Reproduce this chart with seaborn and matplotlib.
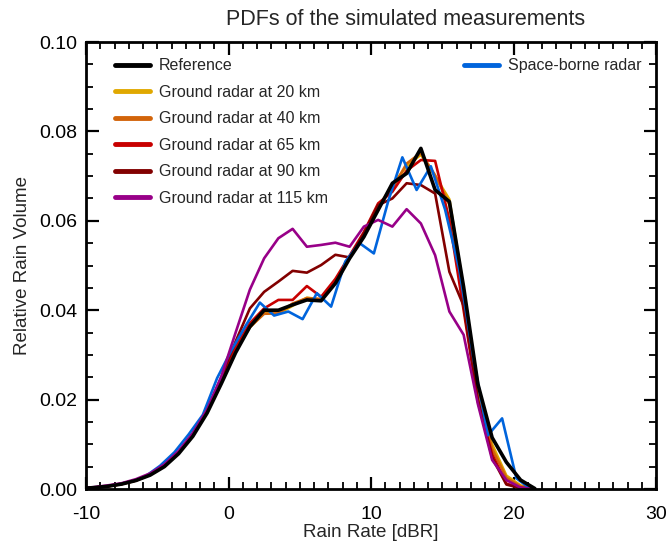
import numpy as np
import pandas as pd
import matplotlib
matplotlib.use("Agg")
import matplotlib.pyplot as plt
from matplotlib.lines import Line2D
from matplotlib.ticker import MultipleLocator, FormatStrFormatter
import seaborn as sns

# Bin centres of the rain-rate histograms [dBR]
rain_rate = [-10.5, -9.5, -8.5, -7.5, -6.5, -5.5, -4.5, -3.5, -2.5, -1.5, -0.5,
             0.5, 1.5, 2.5, 3.5, 4.5, 5.5, 6.5, 7.5, 8.5, 9.5, 10.5,
             11.5, 12.5, 13.5, 14.5, 15.5, 16.5, 17.5, 18.5, 19.5, 20.5, 21.5]
rain_rate_sb = [-10.8, -9.8, -8.8, -7.8, -6.8, -5.8, -4.8, -3.8, -2.8, -1.8, -0.8,
                0.2, 1.2, 2.2, 3.2, 4.2, 5.2, 6.2, 7.2, 8.2, 9.2, 10.2,
                11.2, 12.2, 13.2, 14.2, 15.2, 16.2, 17.2, 18.2, 19.2, 20.2, 21.2]

reference = [0.0001, 0.0003, 0.0006, 0.0011, 0.0019, 0.0031, 0.0050, 0.0079, 0.0118, 0.0170, 0.0236,
             0.0305, 0.0363, 0.0400, 0.0400, 0.0412, 0.0423, 0.0421, 0.0460, 0.0516, 0.0564, 0.0624,
             0.0684, 0.0706, 0.0762, 0.0669, 0.0643, 0.0452, 0.0235, 0.0115, 0.0060, 0.0020, 0.0001]
gr_20km = [0.0001, 0.0003, 0.0006, 0.0011, 0.0019, 0.0032, 0.0051, 0.0081, 0.0122, 0.0174, 0.0242,
           0.0310, 0.0362, 0.0394, 0.0392, 0.0410, 0.0428, 0.0424, 0.0462, 0.0518, 0.0568, 0.0630,
           0.0680, 0.0722, 0.0748, 0.0700, 0.0648, 0.0448, 0.0228, 0.0100, 0.0030, 0.0008, 0.0000]
gr_40km = [0.0001, 0.0003, 0.0006, 0.0011, 0.0019, 0.0032, 0.0051, 0.0081, 0.0122, 0.0174, 0.0243,
           0.0312, 0.0362, 0.0392, 0.0393, 0.0415, 0.0427, 0.0425, 0.0465, 0.0520, 0.0570, 0.0632,
           0.0672, 0.0728, 0.0752, 0.0702, 0.0636, 0.0430, 0.0215, 0.0090, 0.0025, 0.0006, 0.0000]
gr_65km = [0.0001, 0.0003, 0.0006, 0.0011, 0.0019, 0.0032, 0.0052, 0.0082, 0.0123, 0.0175, 0.0245,
           0.0318, 0.0371, 0.0404, 0.0423, 0.0423, 0.0454, 0.0430, 0.0470, 0.0522, 0.0575, 0.0639,
           0.0665, 0.0712, 0.0736, 0.0734, 0.0602, 0.0400, 0.0195, 0.0078, 0.0012, 0.0003, 0.0000]
gr_90km = [0.0001, 0.0003, 0.0006, 0.0012, 0.0020, 0.0033, 0.0053, 0.0083, 0.0125, 0.0178, 0.0250,
           0.0330, 0.0404, 0.0441, 0.0464, 0.0488, 0.0484, 0.0501, 0.0524, 0.0518, 0.0572, 0.0635,
           0.0650, 0.0684, 0.0680, 0.0661, 0.0486, 0.0410, 0.0200, 0.0070, 0.0010, 0.0002, 0.0000]
gr_115km = [0.0002, 0.0004, 0.0008, 0.0013, 0.0022, 0.0035, 0.0055, 0.0085, 0.0125, 0.0178, 0.0252,
            0.0350, 0.0446, 0.0516, 0.0561, 0.0582, 0.0542, 0.0546, 0.0551, 0.0542, 0.0587, 0.0602,
            0.0587, 0.0626, 0.0594, 0.0523, 0.0397, 0.0345, 0.0190, 0.0065, 0.0020, 0.0003, 0.0000]
spaceborne = [0.0001, 0.0002, 0.0005, 0.0010, 0.0017, 0.0029, 0.0052, 0.0082, 0.0122, 0.0166, 0.0248,
              0.0310, 0.0365, 0.0417, 0.0388, 0.0397, 0.0380, 0.0438, 0.0408, 0.0509, 0.0550, 0.0527,
              0.0643, 0.0742, 0.0669, 0.0722, 0.0625, 0.0490, 0.0290, 0.0120, 0.0158, 0.0024, 0.0000]

ground_labels = ["Ground radar at 20 km", "Ground radar at 40 km", "Ground radar at 65 km",
                 "Ground radar at 90 km", "Ground radar at 115 km"]
ground_series = [gr_20km, gr_40km, gr_65km, gr_90km, gr_115km]
ground_colors = ["#E0A800", "#D2640A", "#C80000", "#820000", "#980088"]
ref_color = "#000000"
sb_color = "#0064DC"

sns.set_theme(style="ticks")
plt.rcParams["font.family"] = ["Liberation Sans", "DejaVu Sans"]
plt.rcParams["axes.unicode_minus"] = False

frames = []
for lab, vals in zip(ground_labels, ground_series):
    frames.append(pd.DataFrame({"rate": rain_rate, "pdf": vals, "source": lab}))
frames.append(pd.DataFrame({"rate": rain_rate_sb, "pdf": spaceborne, "source": "Space-borne radar"}))
frames.append(pd.DataFrame({"rate": rain_rate, "pdf": reference, "source": "Reference"}))
df = pd.concat(frames, ignore_index=True)

fig = plt.figure(figsize=(6.68, 5.44), dpi=100)
ax = fig.add_axes([86 / 668, 1 - 489 / 544, 570 / 668, 447 / 544])

draw_order = ground_labels[:4] + ["Space-borne radar", ground_labels[4], "Reference"]
colors = dict(zip(ground_labels, ground_colors))
colors["Reference"] = ref_color
colors["Space-borne radar"] = sb_color
for src in draw_order:
    sub = df[df["source"] == src]
    sns.lineplot(data=sub, x="rate", y="pdf", ax=ax, color=colors[src],
                 lw=2.6 if src == "Reference" else 1.9, estimator=None,
                 sort=False, legend=False)

ax.set_xlim(-10, 30)
ax.set_ylim(0, 0.10)
ax.xaxis.set_major_locator(MultipleLocator(10))
ax.xaxis.set_minor_locator(MultipleLocator(1))
ax.yaxis.set_major_locator(MultipleLocator(0.02))
ax.yaxis.set_minor_locator(MultipleLocator(0.005))
ax.yaxis.set_major_formatter(FormatStrFormatter("%.2f"))
ax.tick_params(which="both", direction="in", top=True, right=True, labelsize=14, colors="black")
ax.tick_params(which="major", length=9, width=1.6)
ax.tick_params(which="minor", length=5, width=1.3)
ax.tick_params(axis="x", which="major", pad=12)
ax.tick_params(axis="y", which="major", pad=6)
for sp in ax.spines.values():
    sp.set_linewidth(2.0)
    sp.set_color("black")

ax.set_title("PDFs of the simulated measurements", fontsize=15.5, pad=12, x=0.561)
ax.set_xlabel("Rain Rate [dBR]", fontsize=13.5, labelpad=1)
ax.set_ylabel("Relative Rain Volume", fontsize=13.5, labelpad=6)

left_handles = [Line2D([], [], color=ref_color, lw=3.5, solid_capstyle="round")]
left_handles += [Line2D([], [], color=c, lw=3.5, solid_capstyle="round") for c in ground_colors]
left_labels = ["Reference"] + ground_labels
leg1 = ax.legend(left_handles, left_labels, loc="upper left", bbox_to_anchor=(0.04, 0.978),
                 frameon=False, fontsize=11.5, handlelength=2.2, handletextpad=0.55,
                 labelspacing=0.72, borderaxespad=0)
ax.add_artist(leg1)
ax.legend([Line2D([], [], color=sb_color, lw=3.5, solid_capstyle="round")], ["Space-borne radar"],
          loc="upper right", bbox_to_anchor=(0.985, 0.978), frameon=False, fontsize=11.5,
          handlelength=2.2, handletextpad=0.55, borderaxespad=0)

fig.savefig("out.png", dpi=100)
